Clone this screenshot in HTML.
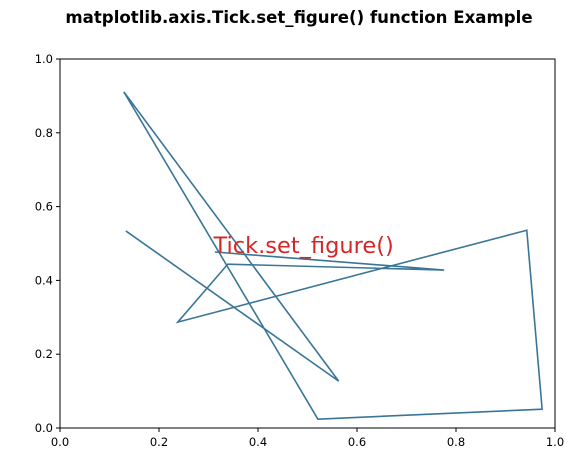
<!DOCTYPE html>
<html><head><meta charset="utf-8"><style>
body{margin:0;background:#fff;}
svg{font-family:"DejaVu Sans","Liberation Sans",sans-serif;}
</style></head><body>
<svg width="588" height="467" xmlns="http://www.w3.org/2000/svg">
<text x="299" y="23" text-anchor="middle" font-size="16.6" font-weight="bold">matplotlib.axis.Tick.set_figure() function Example</text>
<g id="plot"></g>
<rect x="60" y="59" width="495" height="369" fill="none" stroke="#000" stroke-width="1"/>
</svg>
<script>
const xs=[0.133,0.563,0.129,0.521,0.974,0.943,0.238,0.339,0.776,0.313];
const ys=[0.534,0.127,0.911,0.024,0.051,0.536,0.287,0.444,0.428,0.477];
const xTicks=[0,0.2,0.4,0.6,0.8,1.0];
const yTicks=[0,0.2,0.4,0.6,0.8,1.0];
const xTickLabels=["0.0","0.2","0.4","0.6","0.8","1.0"];
const yTickLabels=["0.0","0.2","0.4","0.6","0.8","1.0"];
const X=v=>60+v*495, Y=v=>428-v*369;
const g=document.getElementById('plot'), NS='http://www.w3.org/2000/svg';
function mk(t,a){const e=document.createElementNS(NS,t);for(const k in a)e.setAttribute(k,a[k]);g.appendChild(e);return e;}
xTicks.forEach((v,i)=>{
 const l=mk('line',{x1:X(v),x2:X(v),y1:428,y2:432,stroke:'#000'});
 
 
 const t=mk('text',{x:X(v),y:446,'text-anchor':'middle','font-size':'11.5'});t.textContent=xTickLabels[i];
 
 
});
yTicks.forEach((v,i)=>{
 const l=mk('line',{x1:56,x2:60,y1:Y(v),y2:Y(v),stroke:'#000'});
 
 
 const t=mk('text',{x:53,y:Y(v)+4,'text-anchor':'end','font-size':'11.5'});t.textContent=yTickLabels[i];
 
 
});
const p=mk('polyline',{points:xs.map((x,i)=>X(x)+','+Y(ys[i])).join(' '),fill:'none',stroke:'#3a7598','stroke-width':'1.6'});


const a=mk('text',{x:X(0.31),y:Y(0.48)+2,'font-size':'22.5',fill:'#d62728'});a.textContent='Tick.set_figure()';


</script>
</body></html>
